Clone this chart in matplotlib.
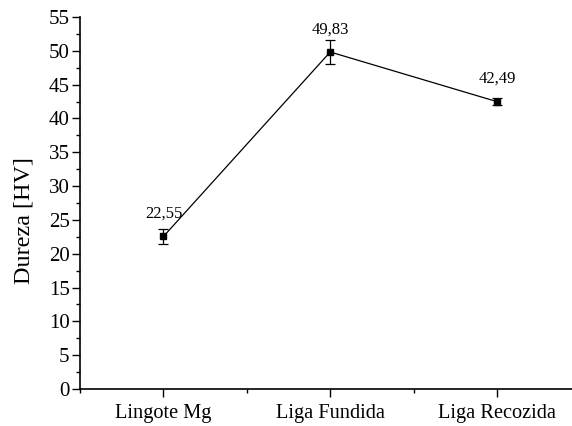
import matplotlib
matplotlib.use("Agg")
import matplotlib.pyplot as plt
from matplotlib.ticker import MultipleLocator, FixedLocator

categories = ["Lingote Mg", "Liga Fundida", "Liga Recozida"]
dureza = [22.55, 49.83, 42.49]
erro = [1.1, 1.8, 0.5]
rotulos = ["22,55", "49,83", "42,49"]

plt.rcParams['font.family'] = ['Liberation Serif', 'DejaVu Serif']

fig = plt.figure(figsize=(5.72, 4.26), dpi=100)
ax = fig.add_axes([0.14, 0.087, 0.86, 0.873])

x = [1, 2, 3]
ax.errorbar(x, dureza, yerr=erro, color="black", lw=0.9, marker="s", ms=4.2,
            capsize=3.5, elinewidth=0.9, capthick=0.9)

for xi, yi, txt in zip(x, dureza, rotulos):
    ax.annotate(txt, (xi, yi), xytext=(0, 13.5), textcoords="offset points",
                ha="center", va="baseline", fontsize=12)

ax.set_xlim(0.5, 3.45)
ax.set_ylim(0, 55)
ax.set_xticks(x)
ax.set_xticklabels(categories, fontsize=14.7)
ax.xaxis.set_minor_locator(FixedLocator([0.5, 1.5, 2.5]))
ax.yaxis.set_major_locator(MultipleLocator(5))
ax.yaxis.set_minor_locator(MultipleLocator(2.5))
ax.tick_params(axis="y", labelsize=15, direction="out", length=5.5, width=1, pad=2)
ax.tick_params(axis="x", direction="out", length=5.5, width=1, pad=5)
ax.tick_params(which="minor", direction="out", length=3, width=1)
ax.set_ylabel("Dureza [HV]", fontsize=17.4)
ax.yaxis.set_label_coords(-0.092, 0.454)

for s in ["top", "right"]:
    ax.spines[s].set_visible(False)
for s in ["left", "bottom"]:
    ax.spines[s].set_linewidth(1.2)

fig.savefig("out.png", dpi=100)
